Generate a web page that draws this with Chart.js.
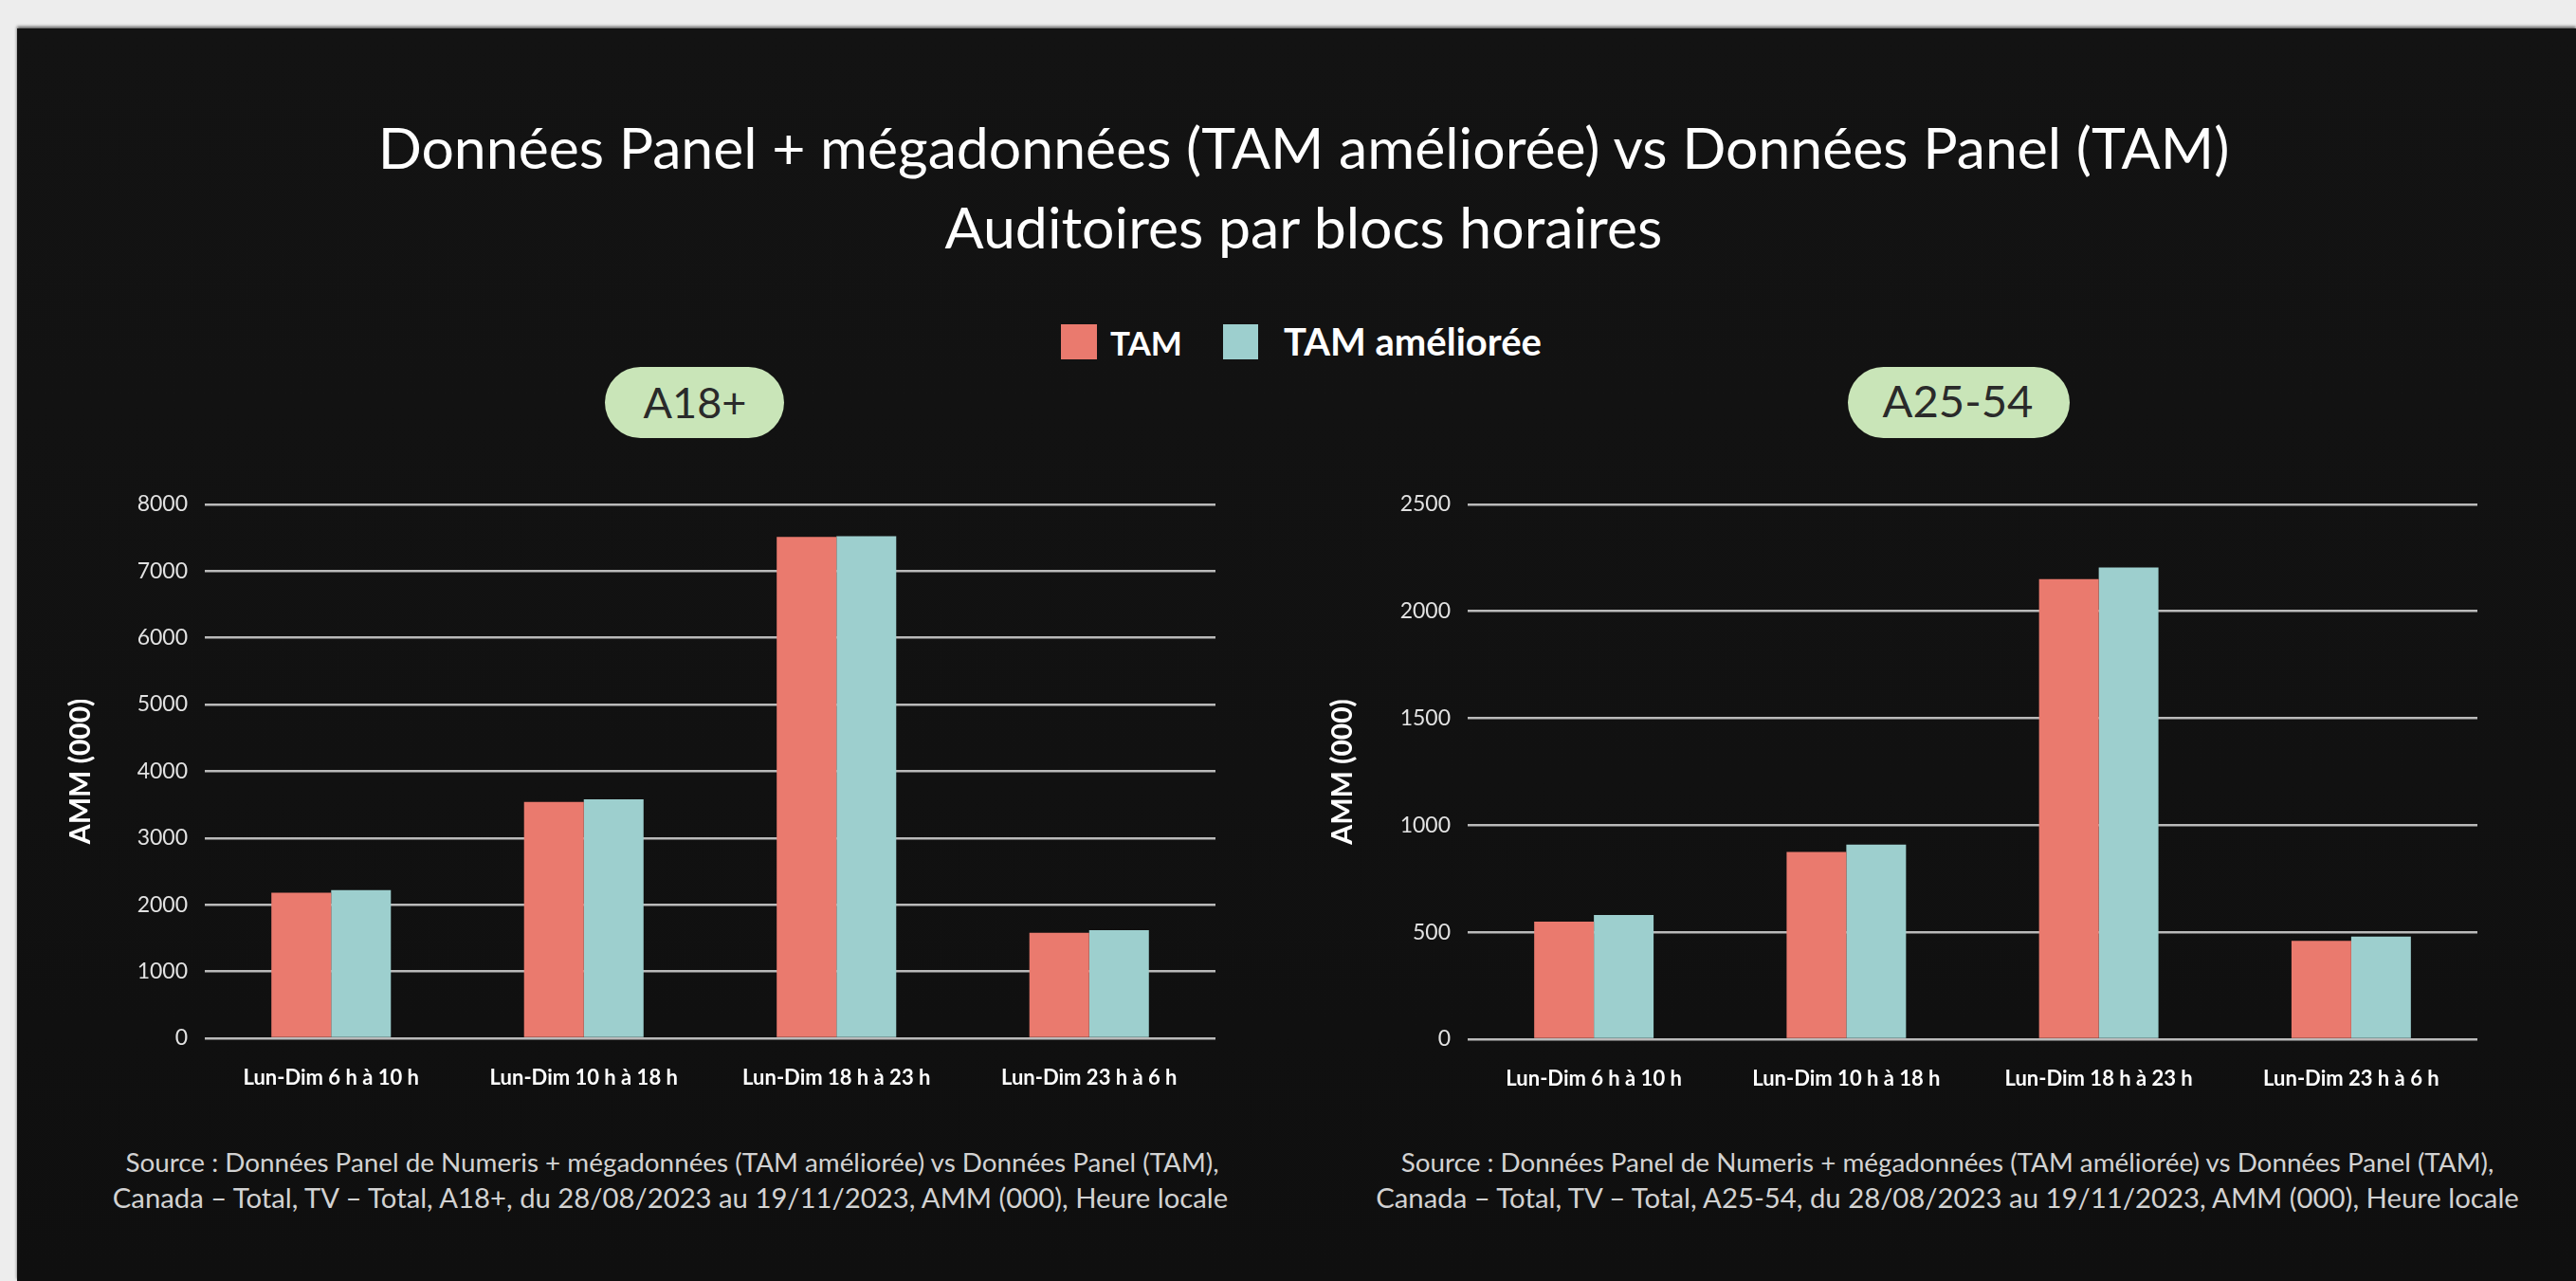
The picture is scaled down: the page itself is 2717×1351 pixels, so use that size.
<!DOCTYPE html>
<html><head><meta charset="utf-8">
<script src="https://cdn.jsdelivr.net/npm/chart.js@4.4.1/dist/chart.umd.min.js"></script>
<style>
html,body{margin:0;padding:0;width:2717px;height:1351px;overflow:hidden;background:#ededed;}
#panel{position:absolute;left:18px;top:30px;right:0;bottom:0;background:linear-gradient(180deg,#131313 0%,#111111 60%,#0f0f0f 100%);box-shadow:0 -2px 3px rgba(0,0,0,0.6);}
.t{position:absolute;white-space:nowrap;line-height:1.2;}
.pill{position:absolute;background:#c9e5b8;border-radius:38px;}
.sw{position:absolute;}
canvas{position:absolute;}
</style></head><body>
<div id="panel"></div>
<canvas id="c1"></canvas>
<canvas id="c2"></canvas>
<script>
// ---- data ----
const categories = ['Lun-Dim 6 h à 10 h', 'Lun-Dim 10 h à 18 h', 'Lun-Dim 18 h à 23 h', 'Lun-Dim 23 h à 6 h'];
const seriesNames = ['TAM', 'TAM améliorée'];
const tamA18 = [2180, 3540, 7510, 1580];
const tamAmelioreeA18 = [2220, 3580, 7520, 1620];
const tamA2554 = [550, 875, 2150, 460];
const tamAmelioreeA2554 = [580, 910, 2205, 480];
const yMaxA18 = 8000, yStepA18 = 1000;
const yMaxA2554 = 2500, yStepA2554 = 500;
const groupLabels = ['A18+', 'A25-54'];
const axisTitle = 'AMM (000)';
const titleLines = ['Données Panel + mégadonnées (TAM améliorée) vs Données Panel (TAM)', 'Auditoires par blocs horaires'];
const sourceLine1 = 'Source : Données Panel de Numeris + mégadonnées (TAM améliorée) vs Données Panel (TAM),';
const sourceLine2 = ['Canada – Total, TV – Total, A18+, du 28/08/2023 au 19/11/2023, AMM (000), Heure locale',
                     'Canada – Total, TV – Total, A25-54, du 28/08/2023 au 19/11/2023, AMM (000), Heure locale'];

const colTAM = '#ea7a6e';
const colAm = '#9dcfce';
const FONT = 'Lato, "Open Sans", sans-serif';

// ---- text helper ----
function addText(txt, o) {
  const d = document.createElement('div');
  d.className = 't';
  d.style.fontFamily = FONT;
  d.style.fontWeight = o.weight || 400;
  d.style.fontSize = o.size + 'px';
  d.style.color = o.color || '#fff';
  d.appendChild(document.createTextNode(txt));
  const m = document.createElement('span');
  m.style.cssText = 'display:inline-block;width:0;height:0;vertical-align:baseline;';
  d.appendChild(m);
  document.body.appendChild(d);
  if (o.width) {
    const w = d.getBoundingClientRect().width;
    d.style.fontSize = (o.size * o.width / w) + 'px';
  }
  const r = d.getBoundingClientRect();
  const mr = m.getBoundingClientRect();
  const baseOff = mr.top - r.top;
  const left = (o.cx !== undefined) ? o.cx - r.width / 2 : o.left;
  d.style.left = left + 'px';
  d.style.top = (o.baseline - baseOff) + 'px';
  return parseFloat(d.style.fontSize);
}
function addBox(cls, x0, y0, x1, y1, bg) {
  const d = document.createElement('div');
  d.className = cls;
  d.style.left = x0 + 'px'; d.style.top = y0 + 'px';
  d.style.width = (x1 - x0) + 'px'; d.style.height = (y1 - y0) + 'px';
  if (bg) d.style.background = bg;
  document.body.appendChild(d);
}

// title
addText(titleLines[0], {cx: 1375, baseline: 178, size: 60, width: 1953, weight: 400});
addText(titleLines[1], {cx: 1375, baseline: 262, size: 56, width: 757, weight: 400});

// legend
addBox('sw', 1119, 342, 1157, 379, colTAM);
addBox('sw', 1290, 342, 1327, 379, colAm);
addText(seriesNames[0], {left: 1171, baseline: 375, size: 40, width: 76, weight: 700});
addText(seriesNames[1], {left: 1354, baseline: 375, size: 40, width: 272, weight: 700});

// pills
addBox('pill', 638, 387, 827, 462);
addBox('pill', 1949, 387, 2183, 462);
addText(groupLabels[0], {cx: 733, baseline: 441, size: 42, width: 109, color: '#2a2a2a'});
addText(groupLabels[1], {cx: 2065, baseline: 440, size: 42, width: 159, color: '#2a2a2a'});

// sources
addText(sourceLine1, {cx: 709, baseline: 1236, size: 26, width: 1154, color: '#d2d2d2'});
addText(sourceLine2[0], {cx: 707, baseline: 1274, size: 26, width: 1177, color: '#d2d2d2'});
addText(sourceLine1, {cx: 2054, baseline: 1236, size: 26, width: 1153, color: '#d2d2d2'});
addText(sourceLine2[1], {cx: 2054, baseline: 1274, size: 26, width: 1206, color: '#d2d2d2'});

// ---- charts ----
function makeChart(id, box, area, tam, am, yMax, yStep, titleCx) {
  const cv = document.getElementById(id);
  cv.width = box.w; cv.height = box.h;
  cv.style.left = box.x + 'px'; cv.style.top = box.y + 'px';
  cv.style.width = box.w + 'px'; cv.style.height = box.h + 'px';
  const titleSize = 30, titleLH = 1.2;
  return new Chart(cv, {
    type: 'bar',
    data: {
      labels: categories,
      datasets: [
        {label: seriesNames[0], data: tam, backgroundColor: colTAM, borderWidth: 0, categoryPercentage: 0.473, barPercentage: 1.0},
        {label: seriesNames[1], data: am, backgroundColor: colAm, borderWidth: 0, categoryPercentage: 0.473, barPercentage: 1.0}
      ]
    },
    options: {
      responsive: false,
      animation: false,
      devicePixelRatio: 1,
      layout: {padding: {left: 0, top: area.top - box.y, right: (box.x + box.w) - area.right, bottom: 0}},
      plugins: {legend: {display: false}, tooltip: {enabled: false}, title: {display: false}},
      scales: {
        x: {
          grid: {display: false, drawTicks: false},
          border: {display: false},
          ticks: {color: '#ffffff', font: {family: FONT, size: 22, weight: 'bold'}, padding: 29, autoSkip: false, maxRotation: 0, minRotation: 0},
          afterFit: s => { s.height = (box.y + box.h) - area.bottom; }
        },
        y: {
          min: 0, max: yMax,
          grid: {color: 'rgba(205,205,205,0.9)', lineWidth: 2.5, drawTicks: false},
          border: {display: false},
          ticks: {stepSize: yStep, color: '#e2e2e2', font: {family: FONT, size: 23}, padding: 18, callback: v => String(v)},
          title: {display: true, text: axisTitle, color: '#ffffff', font: {family: FONT, size: titleSize, weight: 'bold', lineHeight: titleLH},
                  padding: {top: titleCx - box.x - titleSize * titleLH / 2, bottom: 0}},
          afterFit: s => { s.width = area.left - box.x; }
        }
      }
    }
  });
}

makeChart('c1', {x: 40, y: 500, w: 1260, h: 680}, {left: 216, top: 527, right: 1282, bottom: 1095},
          tamA18, tamAmelioreeA18, yMaxA18, yStepA18, 85);
makeChart('c2', {x: 1372, y: 500, w: 1268, h: 680}, {left: 1548, top: 529, right: 2613, bottom: 1096},
          tamA2554, tamAmelioreeA2554, yMaxA2554, yStepA2554, 1416);
</script>
</body></html>
